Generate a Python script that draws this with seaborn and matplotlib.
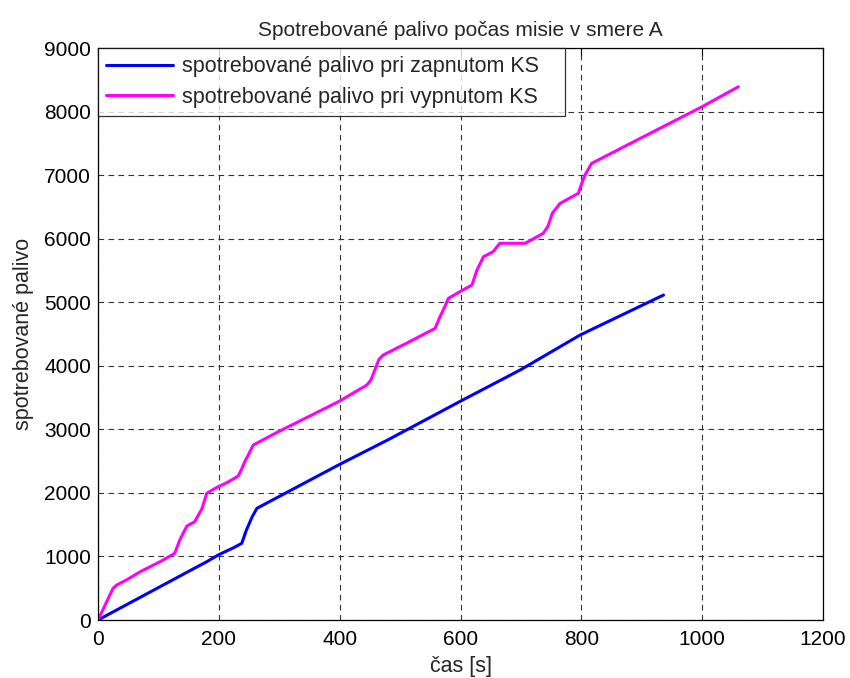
import matplotlib
matplotlib.use("Agg")
import matplotlib.pyplot as plt
import seaborn as sns
import pandas as pd

# data
blue_t = [0, 50, 100, 150, 180, 199, 225, 238, 245, 255, 263, 300, 398, 481, 600, 700, 798, 936]
blue_y = [0, 255, 510, 765, 917, 1023, 1140, 1207, 1400, 1620, 1757, 1944, 2439, 2840, 3443, 3940, 4484, 5113]

mag_t = [0, 15, 25, 31, 47, 70, 103, 127, 135, 147, 160, 172, 180, 194, 215, 232, 238, 243, 250, 257,
         300, 398, 445, 452, 456, 465, 472, 520, 558, 565, 575, 580, 599, 619, 627, 638, 654, 665, 707,
         737, 745, 752, 765, 795, 800, 806, 817, 900, 1000, 1060]
mag_y = [0, 300, 500, 551, 629, 760, 918, 1049, 1250, 1478, 1547, 1750, 1993, 2072, 2170, 2265, 2380,
         2491, 2620, 2753, 2970, 3435, 3697, 3780, 3881, 4100, 4169, 4400, 4589, 4750, 4950, 5061, 5166,
         5271, 5500, 5716, 5795, 5927, 5927, 6084, 6200, 6400, 6556, 6713, 6850, 7001, 7185, 7590, 8076, 8391]

series_names = ["spotrebované palivo pri zapnutom KS", "spotrebované palivo pri vypnutom KS"]
x_ticks = [0, 200, 400, 600, 800, 1000, 1200]
y_ticks = [0, 1000, 2000, 3000, 4000, 5000, 6000, 7000, 8000, 9000]

df = pd.concat([
    pd.DataFrame({"t": blue_t, "fuel": blue_y, "series": series_names[0]}),
    pd.DataFrame({"t": mag_t, "fuel": mag_y, "series": series_names[1]}),
], ignore_index=True)

sns.set_style("white")
plt.rcParams["font.family"] = ["Liberation Sans", "DejaVu Sans"]

fig = plt.figure(figsize=(8.5, 6.78), dpi=100)
ax = fig.add_axes([98/850, 58/678, 725/850, 572/678])

sns.lineplot(data=df, x="t", y="fuel", hue="series", estimator=None, sort=False,
             palette={series_names[0]: "#0000ff", series_names[1]: "#ff00ff"},
             linewidth=2.2, ax=ax)

ax.set_xlim(0, 1200)
ax.set_ylim(0, 9000)
ax.set_xticks(x_ticks)
ax.set_yticks(y_ticks)
ax.set_xticklabels([str(v) for v in x_ticks], fontsize=15)
ax.set_yticklabels([str(v) for v in y_ticks], fontsize=15)
ax.tick_params(direction="in", top=True, right=True, length=5, width=0.8, colors="black")
ax.tick_params(axis="x", pad=7)
ax.tick_params(axis="y", pad=5)
ax.grid(True, color="#333333", linestyle=(0, (5, 4)), linewidth=0.8)
for s in ax.spines.values():
    s.set_color("black")
    s.set_linewidth(0.9)

ax.set_xlabel("čas [s]", fontsize=15.5, labelpad=5)
ax.set_ylabel("spotrebované palivo", fontsize=15.5, labelpad=7)
ax.set_title("Spotrebované palivo počas misie v smere A", fontsize=15, pad=9)

leg = ax.legend(loc="upper left", bbox_to_anchor=(0, 0, 467/725, 1), mode="expand",
                fontsize=15.5, frameon=True, fancybox=False, borderaxespad=0,
                handlelength=3.1, handletextpad=0.4, edgecolor="black", borderpad=0.38,
                labelspacing=0.45)
leg.get_frame().set_linewidth(0.9)
leg.set_title(None)

fig.savefig("out.png", dpi=100)
